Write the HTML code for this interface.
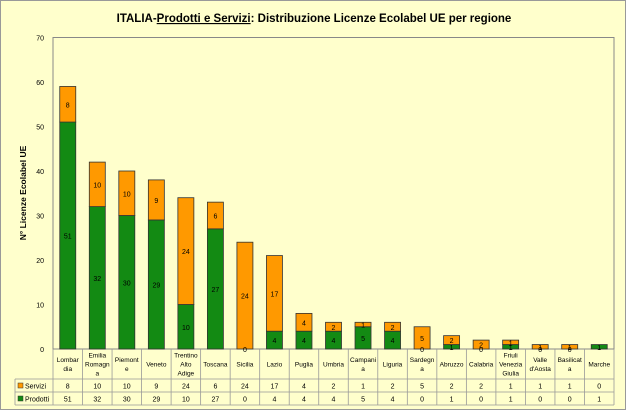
<!DOCTYPE html>
<html><head><meta charset="utf-8"><style>
body{margin:0;background:#fff;}
svg{display:block;font-family:"Liberation Sans",sans-serif;}
</style></head><body>
<svg id="c" width="628" height="412">
<rect x="0.5" y="0.5" width="625" height="409" fill="#ffffcc" stroke="#999"/>
<text x="314" y="22" text-anchor="middle" font-size="11.5" font-weight="bold" fill="#000">ITALIA-<tspan text-decoration="underline">Prodotti e Servizi</tspan>: Distribuzione Licenze Ecolabel UE  per regione</text>
<rect x="53" y="37.5" width="561" height="311.5" fill="#ffffcc" stroke="#888"/>
<text transform="translate(26,193) rotate(-90)" text-anchor="middle" font-size="8.5" font-weight="bold">N° Licenze Ecolabel UE</text>
<g id="g"></g>
</svg>
<script>
const categories=["Lombardia","Emilia Romagna","Piemonte","Veneto","Trentino Alto Adige","Toscana","Sicilia","Lazio","Puglia","Umbria","Campania","Liguria","Sardegna","Abruzzo","Calabria","Friuli Venezia Giulia","Valle d'Aosta","Basilicata","Marche"];
const catLines=[["Lombar","dia"],["Emilia","Romagn","a"],["Piemont","e"],["Veneto"],["Trentino","Alto","Adige"],["Toscana"],["Sicilia"],["Lazio"],["Puglia"],["Umbria"],["Campani","a"],["Liguria"],["Sardegn","a"],["Abruzzo"],["Calabria"],["Friuli","Venezia","Giulia"],["Valle","d'Aosta"],["Basilicat","a"],["Marche"]];
const servizi=[8,10,10,9,24,6,24,17,4,2,1,2,5,2,2,1,1,1,0];
const prodotti=[51,32,30,29,10,27,0,4,4,4,5,4,0,1,0,1,0,0,1];
const yTicks=[0,10,20,30,40,50,60,70];
const NS="http://www.w3.org/2000/svg";
const g=document.getElementById('g');
const x0=53,x1=614,yBot=349,yTop=37.5,yMax=70;
const n=categories.length,cw=(x1-x0)/n,bw=16;
const y=v=>yBot-(v/yMax)*(yBot-yTop);
function el(t,a,txt){const e=document.createElementNS(NS,t);for(const k in a)e.setAttribute(k,a[k]);if(txt!==undefined)e.textContent=txt;g.appendChild(e);return e;}
yTicks.forEach(t=>{const e=el('text',{x:44,y:y(t)+3,'text-anchor':'end','font-size':7},t);

});
const tL=15,r0=349,r1=379,r2=392,r3=405;
[r1,r2,r3].forEach(r=>{const e=el('line',{x1:tL,x2:x1,y1:r,y2:r,stroke:'#999','stroke-width':0.8});

});
for(let i=0;i<=n;i++){const e=el('line',{x1:x0+i*cw,x2:x0+i*cw,y1:r0,y2:r3,stroke:'#999','stroke-width':0.8});

}
const lf=el('line',{x1:tL,x2:tL,y1:r1,y2:r3,stroke:'#999','stroke-width':0.8});


[[r1,'Servizi','#ff9900'],[r2,'Prodotti','#138a13']].forEach(([r,l,c])=>{
const k=el('rect',{x:18,y:r+4,width:5,height:5,fill:c,stroke:'#333','stroke-width':0.5});


const t=el('text',{x:25,y:r+9.5,'font-size':7},l);

});
categories.forEach((c,i)=>{
const cx=x0+cw*(i+0.5);
const p=prodotti[i],s=servizi[i];
const bp=el('rect',{x:cx-bw/2,y:y(p),width:bw,height:yBot-y(p),fill:'#138a13',stroke:'#333','stroke-width':0.8});


const bs=el('rect',{x:cx-bw/2,y:y(p+s),width:bw,height:y(p)-y(p+s),fill:'#ff9900',stroke:'#333','stroke-width':0.8});


if(p>0||s>0){
const lp=el('text',{x:cx,y:(y(p)+yBot)/2+3,'text-anchor':'middle','font-size':7},p);


if(s>0){const ls=el('text',{x:cx,y:(y(p)+y(p+s))/2+3,'text-anchor':'middle','font-size':7},s);

}}
const lines=catLines[i];const st=r0+(r1-r0)/2-(lines.length-1)*4.5+2.5;
lines.forEach((ln,j)=>{const t=el('text',{x:cx,y:st+j*9,'text-anchor':'middle','font-size':6.5},ln);

});
const ts=el('text',{x:cx,y:r1+9.5,'text-anchor':'middle','font-size':7},s);


const tp=el('text',{x:cx,y:r2+9.5,'text-anchor':'middle','font-size':7},p);


});
</script>
</body></html>
